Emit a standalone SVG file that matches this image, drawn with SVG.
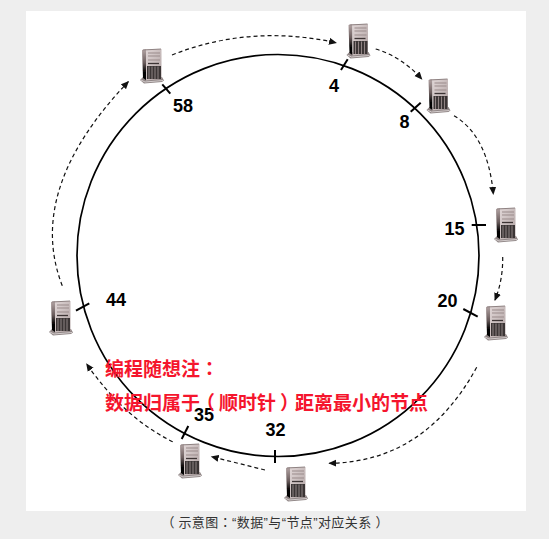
<svg xmlns="http://www.w3.org/2000/svg" width="549" height="539" viewBox="0 0 549 539">
<style>
.ring{fill:none;stroke:#000;stroke-width:1.7}
.tick{stroke:#000;stroke-width:2;fill:none}
.link{fill:none;stroke:#111;stroke-width:1.2;stroke-dasharray:4 3;marker-end:url(#arrow)}
.num{font:bold 18px "Liberation Sans",Arial,sans-serif;fill:#000}
.note{font:700 19px "Noto Sans CJK SC",sans-serif;fill:#f5152d}
.cap{font:13px "Liberation Sans","Noto Sans CJK SC",sans-serif;fill:#333;letter-spacing:.4px}
.tc{font-family:"Noto Sans CJK TC",sans-serif}
</style>
<defs>
<marker id="arrow" markerUnits="userSpaceOnUse" markerWidth="9" markerHeight="8" refX="7" refY="4" orient="auto">
<path d="M0 0.500L8 4L0 7.500Z" fill="#111"/>
</marker>
<filter id="soft" x="-10%" y="-10%" width="120%" height="120%"><feGaussianBlur stdDeviation=".35"/></filter>
<linearGradient id="side" x1="0" y1="0" x2="0" y2="1">
<stop offset="0" stop-color="#b5a6a6"/><stop offset=".45" stop-color="#6a5c5c"/><stop offset=".75" stop-color="#000"/><stop offset="1" stop-color="#000"/>
</linearGradient>
<linearGradient id="front" x1="0" y1="0" x2="1" y2="1">
<stop offset="0" stop-color="#e0d6d6"/><stop offset="1" stop-color="#b0a2a2"/>
</linearGradient>
<g id="server" filter="url(#soft)">
<path d="M-2 31L1 28L20 28L22 31.500L20 33L2 34.500Z" fill="#8f8585"/>
<path d="M-1 31L3 33L21 31.500" fill="none" stroke="#e5dede" stroke-width=".8"/>
<path d="M0 1L4 0L4 31L1 29Z" fill="url(#side)"/>
<path d="M4 0L19.500 0L19.500 30L4 31.500Z" fill="url(#front)"/>
<path d="M1 1L19 0" stroke="#8f8383" stroke-width="1"/>
<path d="M6 4H18M6 7H18M6 11H18" stroke="#9a8b8b" stroke-width="1"/>
<path d="M6 14.500H17" stroke="#3c3535" stroke-width="1.300"/>
<rect x="5" y="17" width="14" height="13" fill="#3a3434"/>
<path d="M7 17.500V30M10 17.500V30M13 17.500V30M16 17.500V30" stroke="#8f8282" stroke-width="1"/>
</g>
</defs>
<rect width="549" height="539" fill="#eeeeee"/>
<rect x="26" y="11" width="500" height="500" fill="#ffffff"/>
<g id="ring">
<circle class="ring" cx="278" cy="255.500" r="201"/>
</g>
<g id="connectors">
<path class="link" d="M172 55Q250 24 336 42.700"/>
<path class="link" d="M375.700 49Q402 57 421.700 79"/>
<path class="link" d="M454 115.700Q488 136 493.300 194"/>
<path class="link" d="M502.700 257Q503 280 495 300"/>
<path class="link" d="M476.700 367.300Q425 462 329.300 463.300"/>
<path class="link" d="M265 470L211.700 456.700"/>
<path class="link" d="M172.700 441.700Q124 418 86.700 364"/>
<path class="link" d="M62.300 285.700Q25 190 128.300 81.700"/>
</g>
<g id="node-4">
<line class="tick" x1="347.700" y1="59.300" x2="341" y2="70"/>
<use href="#server" x="348.500" y="24"/>
<text class="num" x="329" y="92">4</text>
</g>
<g id="node-8">
<line class="tick" x1="420.700" y1="102.700" x2="410.700" y2="111.700"/>
<use href="#server" x="428.500" y="79"/>
<text class="num" x="399.500" y="128">8</text>
</g>
<g id="node-15">
<line class="tick" x1="471.700" y1="225" x2="486" y2="225"/>
<use href="#server" x="496" y="208"/>
<text class="num" x="444.500" y="234.500">15</text>
</g>
<g id="node-20">
<line class="tick" x1="463.300" y1="309" x2="477.700" y2="316.700"/>
<use href="#server" x="486" y="306"/>
<text class="num" x="437.500" y="307">20</text>
</g>
<g id="node-32">
<line class="tick" x1="275" y1="450" x2="275" y2="463"/>
<use href="#server" x="286" y="467"/>
<text class="num" x="265.500" y="436">32</text>
</g>
<g id="node-35">
<line class="tick" x1="188.300" y1="426" x2="181.700" y2="439"/>
<use href="#server" x="180" y="444"/>
<text class="num" x="194" y="421">35</text>
</g>
<g id="node-44">
<line class="tick" x1="89.300" y1="303.300" x2="76" y2="310.700"/>
<use href="#server" x="51" y="301"/>
<text class="num" x="106" y="306">44</text>
</g>
<g id="node-58">
<line class="tick" x1="162.300" y1="84.300" x2="170.300" y2="93.700"/>
<use href="#server" x="142" y="49"/>
<text class="num" x="173" y="112">58</text>
</g>
<text class="note" x="105" y="376">编程随想注<tspan class="tc">：</tspan></text>
<text class="note" x="105" y="410">数据归属于<tspan class="tc" dx="-4">（</tspan><tspan dx="4">顺</tspan>时针<tspan class="tc" dx="4">）</tspan><tspan dx="-4">距</tspan>离最小的节点</text>
<text class="cap" x="161.500" y="527">（<tspan dx="3.500">示</tspan>意图<tspan class="tc">：</tspan>“数据”与“节点”对应关系<tspan dx="4">）</tspan></text>
</svg>
